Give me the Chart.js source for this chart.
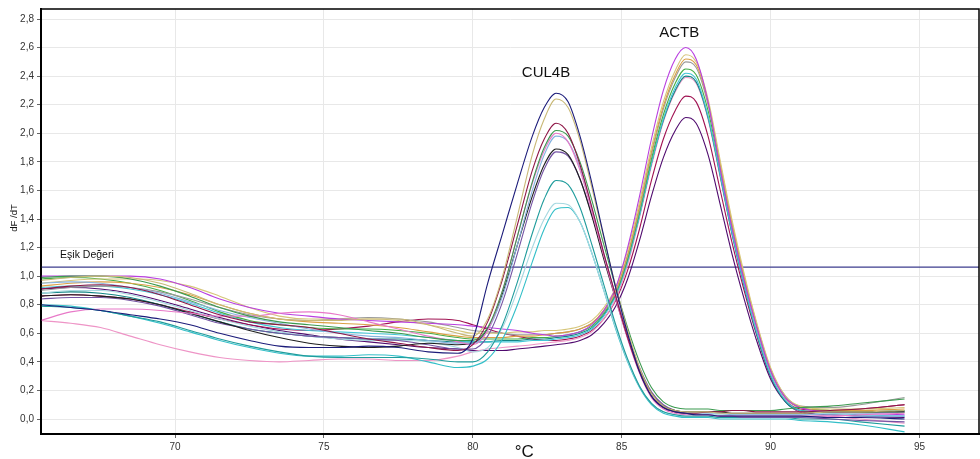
<!DOCTYPE html>
<html>
<head>
<meta charset="utf-8">
<title>dF/dT melt curves</title>
<script src="https://cdn.jsdelivr.net/npm/chart.js@4.4.0/dist/chart.umd.min.js"></script>
<style>
html, body { margin: 0; padding: 0; background: #fff; }
</style>
</head>
<body>
<canvas id="chart" width="980" height="459"></canvas>
<script>

// temperature grid (°C) shared by every curve
var temps = [65.5, 66.5, 67.5, 68.5, 69.5, 70.5, 71.5, 72.5, 73.5, 74.5, 75.5, 76.5, 77.5, 78.5, 79.5,
    80, 80.5, 81, 81.5, 82, 82.4, 82.8, 83.2, 83.6, 84, 84.4, 84.8, 85.2, 85.6, 86,
    86.4, 86.8, 87.15, 87.5, 87.9, 88.3, 88.7, 89.1, 89.5, 90, 90.5, 91, 92, 93, 94.5];

// CUL4B curves (peak ~82.8 °C)
var cul4bNavy = [0.80, 0.78, 0.76, 0.73, 0.70, 0.66, 0.60, 0.55, 0.51, 0.50, 0.50, 0.51, 0.50, 0.47, 0.46,
    0.56, 0.95, 1.30, 1.65, 1.98, 2.18, 2.28, 2.22, 1.98, 1.65, 1.28, 0.92, 0.60, 0.33, 0.16,
    0.08, 0.05, 0.04, 0.03, 0.03, 0.02, 0.02, 0.02, 0.02, 0.02, 0.02, 0.02, 0.01, 0.01, 0.00];
var cul4bKhaki = [0.97, 0.99, 1.00, 0.99, 0.95, 0.88, 0.80, 0.74, 0.70, 0.69, 0.69, 0.70, 0.70, 0.66, 0.60,
    0.58, 0.70, 1.00, 1.42, 1.85, 2.10, 2.24, 2.18, 1.95, 1.62, 1.27, 0.93, 0.62, 0.36, 0.18,
    0.09, 0.06, 0.05, 0.05, 0.05, 0.04, 0.04, 0.04, 0.04, 0.04, 0.04, 0.04, 0.05, 0.05, 0.06];
var cul4bMaroon = [0.91, 0.93, 0.94, 0.92, 0.87, 0.80, 0.73, 0.68, 0.66, 0.64, 0.60, 0.56, 0.53, 0.50, 0.48,
    0.52, 0.68, 0.98, 1.36, 1.74, 1.96, 2.07, 2.00, 1.78, 1.48, 1.16, 0.86, 0.57, 0.33, 0.16,
    0.08, 0.05, 0.04, 0.04, 0.05, 0.05, 0.06, 0.06, 0.05, 0.05, 0.05, 0.05, 0.06, 0.07, 0.10];
var cul4bGreen = [0.99, 1.00, 1.00, 0.98, 0.93, 0.86, 0.78, 0.72, 0.68, 0.66, 0.64, 0.62, 0.60, 0.57, 0.55,
    0.55, 0.64, 0.90, 1.28, 1.66, 1.90, 2.02, 1.98, 1.80, 1.53, 1.22, 0.92, 0.64, 0.40, 0.22,
    0.12, 0.08, 0.07, 0.07, 0.07, 0.06, 0.06, 0.06, 0.06, 0.06, 0.07, 0.08, 0.09, 0.11, 0.14];
var cul4bPink = [0.69, 0.75, 0.77, 0.77, 0.76, 0.74, 0.72, 0.72, 0.74, 0.75, 0.73, 0.68, 0.63, 0.58, 0.54,
    0.52, 0.62, 0.90, 1.28, 1.65, 1.88, 2.00, 1.94, 1.74, 1.45, 1.14, 0.84, 0.56, 0.32, 0.15,
    0.07, 0.04, 0.03, 0.03, 0.03, 0.02, 0.02, 0.02, 0.02, 0.02, 0.02, 0.02, 0.02, 0.03, 0.04];
var cul4bLightBlue = [0.95, 0.96, 0.95, 0.92, 0.88, 0.82, 0.76, 0.71, 0.67, 0.63, 0.60, 0.58, 0.57, 0.55, 0.53,
    0.53, 0.62, 0.86, 1.22, 1.60, 1.85, 1.98, 1.94, 1.76, 1.48, 1.16, 0.86, 0.57, 0.33, 0.16,
    0.08, 0.05, 0.04, 0.04, 0.04, 0.04, 0.03, 0.03, 0.03, 0.03, 0.03, 0.03, 0.03, 0.02, 0.02];
var cul4bBlack = [0.86, 0.87, 0.86, 0.84, 0.80, 0.74, 0.68, 0.62, 0.57, 0.53, 0.51, 0.50, 0.51, 0.53, 0.52,
    0.53, 0.63, 0.88, 1.22, 1.56, 1.78, 1.89, 1.85, 1.68, 1.42, 1.12, 0.84, 0.57, 0.34, 0.18,
    0.09, 0.06, 0.05, 0.05, 0.05, 0.05, 0.04, 0.04, 0.04, 0.04, 0.04, 0.04, 0.05, 0.05, 0.05];
var cul4bPurple = [0.84, 0.85, 0.85, 0.83, 0.79, 0.73, 0.67, 0.63, 0.60, 0.58, 0.57, 0.56, 0.55, 0.52, 0.49,
    0.49, 0.58, 0.82, 1.16, 1.52, 1.75, 1.87, 1.84, 1.68, 1.43, 1.14, 0.86, 0.59, 0.36, 0.19,
    0.10, 0.06, 0.04, 0.03, 0.03, 0.02, 0.02, 0.01, 0.01, 0.01, 0.01, 0.01, 0.00, -0.01, -0.02];
var cul4bTeal = [0.79, 0.78, 0.76, 0.72, 0.68, 0.62, 0.56, 0.51, 0.47, 0.44, 0.43, 0.43, 0.43, 0.42, 0.40,
    0.40, 0.47, 0.66, 0.96, 1.30, 1.54, 1.67, 1.64, 1.48, 1.22, 0.94, 0.66, 0.42, 0.23, 0.11,
    0.05, 0.03, 0.02, 0.02, 0.02, 0.01, 0.01, 0.01, 0.01, 0.01, 0.01, 0.00, 0.00, -0.02, -0.05];
var cul4bLightCyan = [0.88, 0.90, 0.90, 0.87, 0.82, 0.76, 0.70, 0.65, 0.61, 0.58, 0.56, 0.55, 0.55, 0.54, 0.50,
    0.47, 0.50, 0.64, 0.90, 1.20, 1.40, 1.51, 1.50, 1.38, 1.16, 0.90, 0.64, 0.41, 0.23, 0.11,
    0.05, 0.03, 0.03, 0.03, 0.03, 0.03, 0.03, 0.03, 0.03, 0.03, 0.03, 0.03, 0.04, 0.04, 0.05];
var cul4bCyan = [0.80, 0.79, 0.76, 0.72, 0.67, 0.61, 0.55, 0.50, 0.46, 0.44, 0.44, 0.45, 0.44, 0.40, 0.36,
    0.37, 0.42, 0.56, 0.80, 1.10, 1.33, 1.47, 1.48, 1.38, 1.16, 0.90, 0.63, 0.40, 0.22, 0.10,
    0.04, 0.02, 0.01, 0.01, 0.01, 0.00, 0.00, 0.00, 0.00, 0.00, 0.00, -0.01, -0.02, -0.04, -0.09];

// ACTB curves (peak ~87.15 °C)
var actbMagenta = [1.00, 1.00, 1.00, 1.00, 0.98, 0.92, 0.84, 0.78, 0.74, 0.72, 0.70, 0.69, 0.68, 0.67, 0.66,
    0.65, 0.64, 0.63, 0.62, 0.60, 0.59, 0.58, 0.59, 0.61, 0.66, 0.76, 0.92, 1.20, 1.56, 1.96,
    2.30, 2.52, 2.60, 2.52, 2.22, 1.76, 1.34, 0.98, 0.67, 0.34, 0.15, 0.08, 0.05, 0.04, 0.03];
var actbKhaki = [0.95, 0.97, 0.98, 0.98, 0.97, 0.93, 0.86, 0.78, 0.72, 0.70, 0.70, 0.70, 0.69, 0.66, 0.62,
    0.60, 0.60, 0.60, 0.61, 0.61, 0.62, 0.62, 0.63, 0.65, 0.69, 0.78, 0.92, 1.18, 1.52, 1.90,
    2.22, 2.44, 2.55, 2.50, 2.24, 1.82, 1.40, 1.03, 0.70, 0.36, 0.16, 0.09, 0.07, 0.07, 0.08];
var actbOrange = [0.93, 0.95, 0.96, 0.95, 0.92, 0.87, 0.80, 0.74, 0.70, 0.68, 0.67, 0.66, 0.64, 0.61, 0.58,
    0.57, 0.57, 0.57, 0.58, 0.58, 0.59, 0.60, 0.61, 0.63, 0.67, 0.76, 0.90, 1.15, 1.49, 1.87,
    2.19, 2.41, 2.52, 2.48, 2.22, 1.80, 1.38, 1.01, 0.69, 0.35, 0.15, 0.08, 0.06, 0.06, 0.07];
var actbGray = [0.90, 0.92, 0.93, 0.92, 0.89, 0.84, 0.78, 0.73, 0.70, 0.69, 0.70, 0.71, 0.70, 0.68, 0.64,
    0.62, 0.61, 0.60, 0.59, 0.59, 0.59, 0.60, 0.61, 0.63, 0.67, 0.75, 0.89, 1.14, 1.47, 1.85,
    2.17, 2.39, 2.50, 2.46, 2.20, 1.79, 1.37, 1.00, 0.68, 0.35, 0.16, 0.09, 0.08, 0.10, 0.15];
var actbGreen = [0.98, 0.99, 0.98, 0.95, 0.90, 0.83, 0.75, 0.69, 0.66, 0.64, 0.63, 0.63, 0.62, 0.60, 0.57,
    0.56, 0.56, 0.56, 0.56, 0.57, 0.57, 0.58, 0.59, 0.61, 0.65, 0.74, 0.88, 1.12, 1.45, 1.82,
    2.13, 2.35, 2.45, 2.41, 2.16, 1.76, 1.35, 0.99, 0.67, 0.34, 0.15, 0.08, 0.06, 0.05, 0.05];
var actbCyan = [0.92, 0.93, 0.93, 0.91, 0.87, 0.81, 0.74, 0.68, 0.64, 0.62, 0.61, 0.60, 0.59, 0.57, 0.55,
    0.54, 0.54, 0.54, 0.54, 0.55, 0.55, 0.56, 0.57, 0.59, 0.63, 0.72, 0.86, 1.10, 1.42, 1.79,
    2.10, 2.32, 2.42, 2.38, 2.12, 1.72, 1.31, 0.95, 0.63, 0.31, 0.13, 0.06, 0.04, 0.03, 0.02];
var actbTeal = [0.88, 0.89, 0.88, 0.85, 0.80, 0.74, 0.68, 0.63, 0.60, 0.58, 0.57, 0.56, 0.56, 0.55, 0.54,
    0.54, 0.54, 0.55, 0.55, 0.56, 0.56, 0.57, 0.58, 0.60, 0.64, 0.73, 0.87, 1.11, 1.43, 1.79,
    2.09, 2.30, 2.40, 2.36, 2.11, 1.71, 1.30, 0.94, 0.62, 0.30, 0.12, 0.06, 0.05, 0.05, 0.06];
var actbPink = [0.69, 0.67, 0.64, 0.58, 0.52, 0.47, 0.43, 0.41, 0.40, 0.41, 0.42, 0.42, 0.41, 0.41, 0.44,
    0.47, 0.49, 0.50, 0.51, 0.52, 0.53, 0.54, 0.55, 0.57, 0.61, 0.70, 0.84, 1.08, 1.41, 1.77,
    2.08, 2.29, 2.39, 2.35, 2.10, 1.70, 1.30, 0.95, 0.64, 0.32, 0.13, 0.05, 0.02, 0.00, -0.03];
var actbMaroon = [0.86, 0.87, 0.86, 0.84, 0.80, 0.75, 0.70, 0.66, 0.63, 0.62, 0.63, 0.65, 0.68, 0.70, 0.69,
    0.66, 0.63, 0.60, 0.58, 0.56, 0.55, 0.55, 0.56, 0.58, 0.62, 0.70, 0.83, 1.04, 1.33, 1.67,
    1.96, 2.16, 2.26, 2.22, 1.98, 1.61, 1.24, 0.91, 0.61, 0.30, 0.13, 0.07, 0.06, 0.07, 0.10];
var actbDarkPurple = [0.91, 0.92, 0.91, 0.88, 0.83, 0.77, 0.71, 0.66, 0.62, 0.59, 0.56, 0.54, 0.52, 0.50, 0.49,
    0.48, 0.48, 0.48, 0.49, 0.50, 0.51, 0.52, 0.53, 0.55, 0.59, 0.67, 0.79, 0.98, 1.25, 1.56,
    1.83, 2.02, 2.11, 2.07, 1.85, 1.51, 1.16, 0.85, 0.57, 0.28, 0.12, 0.05, 0.03, 0.02, 0.01];

// axis ticks and labels
var xTicks = [70, 75, 80, 85, 90, 95];
var yTicks = [0, 0.2, 0.4, 0.6, 0.8, 1.0, 1.2, 1.4, 1.6, 1.8, 2.0, 2.2, 2.4, 2.6, 2.8];
var thresholdValue = 1.063;
var thresholdText = "Eşik Değeri";
var peakNames = ["CUL4B", "ACTB"];
var peakNameX = [82.46, 86.93];
var peakNameY = [2.42, 2.705];

var curves = [
    [cul4bNavy, '#1c1c7a'], [cul4bKhaki, '#c9b977'], [cul4bMaroon, '#8e1546'], [cul4bGreen, '#3b9a4f'],
    [cul4bPink, '#e879c8'], [cul4bLightBlue, '#86b4e0'], [cul4bBlack, '#1e1e1e'], [cul4bPurple, '#7453a3'],
    [cul4bTeal, '#1f9c9c'], [cul4bLightCyan, '#a6d8e0'], [cul4bCyan, '#33bfc8'],
    [actbMagenta, '#b93fe0'], [actbKhaki, '#d6c67a'], [actbOrange, '#dba045'], [actbGray, '#9a9a9a'],
    [actbGreen, '#45ad46'], [actbCyan, '#42c6d6'], [actbTeal, '#128585'], [actbPink, '#ee94c6'],
    [actbMaroon, '#a01252'], [actbDarkPurple, '#4f0a6e']
];

var datasets = [];
for (var i = 0; i < curves.length; i++) { //one line per well
    var pts = [];
    for (var j = 0; j < temps.length; j++) {
        pts.push({ x: temps[j], y: curves[i][0][j] });
    }
    datasets.push({
        data: pts,
        borderColor: curves[i][1],
        borderWidth: 1.1,
        pointRadius: 0,
        cubicInterpolationMode: 'monotone',
        fill: false
    });
}

// threshold line across the whole plot
datasets.push({
    data: [{ x: 65.5, y: thresholdValue }, { x: 97, y: thresholdValue }],
    borderColor: '#3c3c8e',
    borderWidth: 1.3,
    pointRadius: 0,
    fill: false
});

var fontFamily = "'Liberation Sans', Arial, sans-serif";
Chart.defaults.font.family = fontFamily;

// frame, labels and axis titles
var textPlugin = {
    id: 'textPlugin',
    beforeDraw: function (chart) {
        var c = chart.ctx;
        c.save();
        c.fillStyle = '#fff';
        c.fillRect(0, 0, chart.width, chart.height);
        c.restore();
    },
    afterDraw: function (chart) {
        var c = chart.ctx;
        var a = chart.chartArea;
        var xs = chart.scales.x;
        var ys = chart.scales.y;
        c.save();
        c.strokeStyle = '#000';
        c.lineWidth = 1.5;
        c.strokeRect(a.left, a.top, a.right - a.left, a.bottom - a.top);

        c.fillStyle = '#111';
        c.textAlign = 'center';
        c.textBaseline = 'middle';
        c.font = '15px ' + fontFamily;
        for (var k = 0; k < peakNames.length; k++) {
            c.fillText(peakNames[k], xs.getPixelForValue(peakNameX[k]), ys.getPixelForValue(peakNameY[k]));
        }

        c.textAlign = 'left';
        c.font = '10.5px ' + fontFamily;
        c.fillText(thresholdText, xs.getPixelForValue(66.14), ys.getPixelForValue(1.145));

        c.textAlign = 'center';
        c.font = '17px ' + fontFamily;
        c.fillText('°C', xs.getPixelForValue(81.73), a.bottom + 18);

        c.translate(14, 218);
        c.rotate(-Math.PI / 2);
        c.font = '9.5px ' + fontFamily;
        c.fillText('dF /dT', 0, 0);
        c.restore();
    }
};

var ctx = document.getElementById('chart').getContext('2d');
window.myChart = new Chart(ctx, {
    type: 'line',
    data: { datasets: datasets },
    options: {
        responsive: false,
        animation: false,
        layout: { padding: { top: 8, right: 1, left: 0, bottom: 0 } },
        plugins: { legend: { display: false }, tooltip: { enabled: false } },
        scales: {
            x: {
                type: 'linear',
                min: 65.5,
                max: 97,
                afterBuildTicks: function (axis) {
                    axis.ticks = xTicks.map(function (v) { return { value: v }; });
                },
                afterFit: function (axis) { axis.height = 25; },
                ticks: { color: '#333', font: { size: 10 }, padding: 3, maxRotation: 0 },
                grid: { color: '#e8e8e8', tickLength: 4, tickColor: '#666' },
                border: { color: '#000', width: 2 }
            },
            y: {
                min: -0.105,
                max: 2.87,
                afterBuildTicks: function (axis) {
                    axis.ticks = yTicks.map(function (v) { return { value: v }; });
                },
                afterFit: function (axis) { axis.width = 41; },
                ticks: {
                    color: '#333',
                    font: { size: 10 },
                    padding: 3,
                    callback: function (v) { return v.toFixed(1).replace('.', ','); }
                },
                grid: { color: '#e8e8e8', tickLength: 4, tickColor: '#666' },
                border: { color: '#000', width: 2 }
            }
        }
    },
    plugins: [textPlugin]
});

</script>
</body>
</html>
